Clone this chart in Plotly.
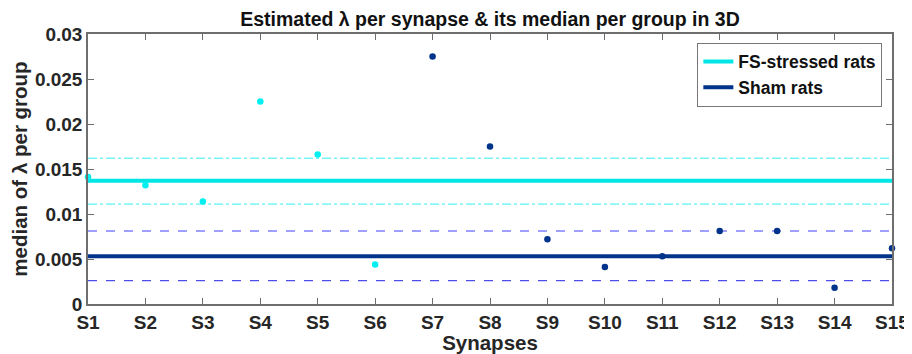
import plotly.graph_objects as go

synapses = [f"S{i}" for i in range(1, 16)]
x_pos = list(range(1, 16))
lambda_values = [0.0141, 0.0132, 0.0114, 0.0225, 0.0166, 0.0044,
                 0.0275, 0.0175, 0.0072, 0.0041, 0.0053, 0.0081, 0.0081, 0.0018, 0.0062]
group = ["FS"] * 6 + ["Sham"] * 9

fs_median = 0.0137
fs_band = [0.0111, 0.0162]
sham_median = 0.0053
sham_band = [0.0026, 0.0081]

y_ticks = [0, 0.005, 0.01, 0.015, 0.02, 0.025, 0.03]
y_ticklabels = ["0", "0.005", "0.01", "0.015", "0.02", "0.025", "0.03"]

CYAN = "#00e6e6"
CYAN_PT = "#00f0f0"
NAVY = "#00338a"
FONT = "Liberation Sans"
TXT = "#262626"

# page body has an 8px default margin; figure is sized to fill the rest
W, H = 904, 346

fig = go.Figure()
x_ends = [x_pos[0], x_pos[-1]]

# bands
fig.add_trace(go.Scatter(x=x_ends, y=[fs_band[1]] * 2, mode="lines",
                         line=dict(color="#33f0f0", width=1, dash="dashdot"), showlegend=False))
fig.add_trace(go.Scatter(x=x_ends, y=[fs_band[0]] * 2, mode="lines",
                         line=dict(color="#33f0f0", width=1, dash="dashdot"), showlegend=False))
fig.add_trace(go.Scatter(x=x_ends, y=[sham_band[1]] * 2, mode="lines",
                         line=dict(color="#8080ff", width=1.5, dash="dash"), showlegend=False))
fig.add_trace(go.Scatter(x=x_ends, y=[sham_band[0]] * 2, mode="lines",
                         line=dict(color="#4d4dee", width=1.2, dash="dash"), showlegend=False))

# medians
fig.add_trace(go.Scatter(x=x_ends, y=[fs_median] * 2, mode="lines", name="FS-stressed rats",
                         line=dict(color=CYAN, width=4)))
fig.add_trace(go.Scatter(x=x_ends, y=[sham_median] * 2, mode="lines", name="Sham rats",
                         line=dict(color=NAVY, width=4)))

# points
fs_x = [x for x, g in zip(x_pos, group) if g == "FS"]
fs_y = [v for v, g in zip(lambda_values, group) if g == "FS"]
sh_x = [x for x, g in zip(x_pos, group) if g == "Sham"]
sh_y = [v for v, g in zip(lambda_values, group) if g == "Sham"]
fig.add_trace(go.Scatter(x=fs_x, y=fs_y, mode="markers", showlegend=False, cliponaxis=False,
                         marker=dict(color=CYAN_PT, size=6.5)))
fig.add_trace(go.Scatter(x=sh_x, y=sh_y, mode="markers", showlegend=False, cliponaxis=False,
                         marker=dict(color=NAVY, size=6.5)))

axis_common = dict(showline=True, linecolor="#6e6e6e", linewidth=1.5, mirror="ticks",
                   ticks="inside", ticklen=6, tickcolor="#6e6e6e", showgrid=False, zeroline=False,
                   automargin=False,
                   tickfont=dict(family=FONT, size=19, color=TXT, weight="bold"))

fig.update_layout(
    width=W, height=H,
    margin=dict(l=80, r=20, t=26, b=50),
    paper_bgcolor="white", plot_bgcolor="white",
    title=dict(text="Estimated λ per synapse & its median per group in 3D",
               x=(490 - 8) / W, xanchor="center", y=1 - 11 / H, yanchor="middle",
               font=dict(family=FONT, size=19.5, color="#111111", weight="bold")),
    xaxis=dict(range=[1, 15], tickvals=x_pos, ticktext=synapses,
               title=dict(text="Synapses", standoff=0,
                          font=dict(family=FONT, size=20.5, color=TXT, weight="bold")),
               **axis_common),
    yaxis=dict(range=[0, 0.03], tickvals=y_ticks, ticktext=y_ticklabels,
               title=dict(text="median of λ per group", standoff=4,
                          font=dict(family=FONT, size=20.5, color=TXT, weight="bold")),
               **axis_common),
    legend=dict(x=0.988, xanchor="right", y=0.968, yanchor="top",
                bgcolor="white", bordercolor="#777777", borderwidth=1,
                font=dict(family=FONT, size=17.5, color="#111111", weight="bold"),
                tracegroupgap=0, itemwidth=30),
    showlegend=True,
)

fig.write_html("out.html")
